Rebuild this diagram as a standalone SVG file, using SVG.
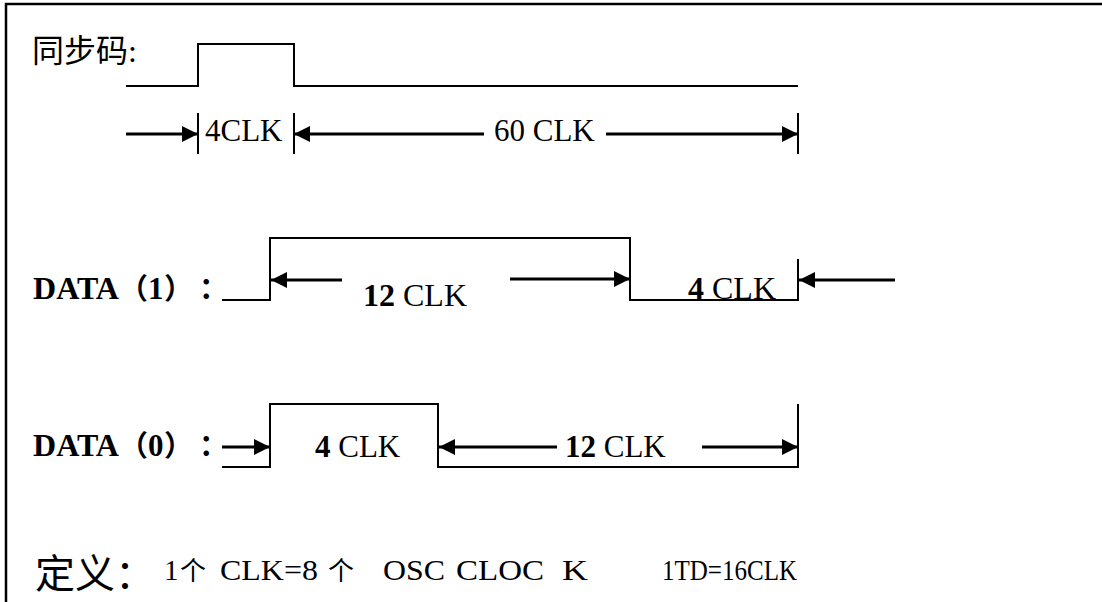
<svg xmlns="http://www.w3.org/2000/svg" width="1102" height="602" viewBox="0 0 1102 602">
<style>
.frame{fill:none;stroke:#000;stroke-width:2.5}
.wave{fill:none;stroke:#000;stroke-width:2}
.tick{stroke:#000;stroke-width:2}
.arr{stroke:#000;stroke-width:3;fill:none;marker-end:url(#ah)}
text{fill:#000}
</style>
<defs>
<marker id="ah" markerUnits="userSpaceOnUse" markerWidth="18" markerHeight="18" refX="16" refY="8" orient="auto">
<path d="M0,0 L16,8 L0,16 Z" fill="#000"/>
</marker>
</defs>
<rect x="0" y="0" width="1102" height="602" fill="#fff"/>
<path class="frame" d="M6,602 V4 H1102"/>

<g id="sync" font-family="'Liberation Serif', 'Noto Sans CJK SC', serif" font-size="31">
<text x="32" y="62" font-size="32">同步码:</text>
<path class="wave" d="M126,86 H198 V44 H294 V86 H798"/>
<line class="tick" x1="198" y1="113" x2="198" y2="154"/>
<line class="tick" x1="294" y1="113" x2="294" y2="154"/>
<line class="tick" x1="798" y1="113" x2="798" y2="154"/>
<text x="205" y="141">4CLK</text>
<text x="494" y="141">60 CLK</text>
</g>

<g id="data1" font-family="'Liberation Serif', 'Noto Sans CJK SC', serif" font-size="32">
<text x="33" y="299" font-weight="bold" font-size="31" textLength="86" lengthAdjust="spacingAndGlyphs">DATA</text>
<text y="299" font-weight="bold" font-size="29"><tspan x="119">（</tspan><tspan x="148" font-size="31">1</tspan><tspan x="164">）</tspan><tspan x="199">：</tspan></text>
<path class="wave" d="M222,300 H270 V238 H630 V300 H798 V259"/>
<text x="363" y="306"><tspan font-weight="bold">12</tspan> CLK</text>
<text x="688" y="299"><tspan font-weight="bold">4</tspan> CLK</text>
</g>

<g id="data0" font-family="'Liberation Serif', 'Noto Sans CJK SC', serif" font-size="31">
<text x="33" y="456" font-weight="bold" textLength="86" lengthAdjust="spacingAndGlyphs">DATA</text>
<text y="456" font-weight="bold" font-size="29"><tspan x="119">（</tspan><tspan x="148" font-size="31">0</tspan><tspan x="164">）</tspan><tspan x="199">：</tspan></text>
<path class="wave" d="M222,467 H270 V404 H438 V467 H798 V404"/>
<text x="315" y="457"><tspan font-weight="bold">4</tspan> CLK</text>
<text x="565" y="457"><tspan font-weight="bold">12</tspan> CLK</text>
</g>

<g id="def" font-family="'Liberation Serif', 'Noto Sans CJK SC', serif" font-size="29">
<text x="35" y="588" font-size="40">定义：</text>
<text x="164" y="580">1</text>
<text x="180" y="580" font-size="26">个</text>
<text x="220" y="580" textLength="98" lengthAdjust="spacingAndGlyphs">CLK=8</text>
<text x="328" y="580" font-size="26">个</text>
<text x="383" y="580" textLength="62" lengthAdjust="spacingAndGlyphs">OSC</text>
<text x="456" y="580" textLength="88" lengthAdjust="spacingAndGlyphs">CLOC</text>
<text x="562" y="580" textLength="26" lengthAdjust="spacingAndGlyphs">K</text>
<text x="662" y="580" textLength="135" lengthAdjust="spacingAndGlyphs">1TD=16CLK</text>
</g>

<g id="connectors">
<line class="arr" x1="126" y1="134" x2="198" y2="134"/>
<line class="arr" x1="484" y1="134" x2="294" y2="134"/>
<line class="arr" x1="606" y1="134" x2="798" y2="134"/>
<line class="arr" x1="342" y1="280" x2="271" y2="280"/>
<line class="arr" x1="510" y1="279" x2="630" y2="279"/>
<line class="arr" x1="895" y1="280" x2="799" y2="280"/>
<line class="arr" x1="222" y1="447" x2="270" y2="447"/>
<line class="arr" x1="557" y1="447" x2="439" y2="447"/>
<line class="arr" x1="702" y1="447" x2="798" y2="447"/>
</g>
</svg>
